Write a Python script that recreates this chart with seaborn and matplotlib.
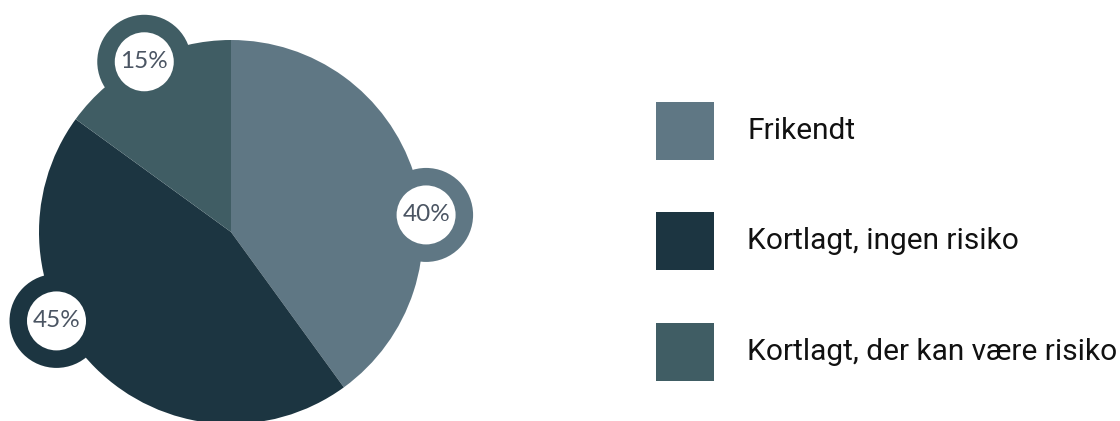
import matplotlib
matplotlib.use("Agg")
import matplotlib.pyplot as plt
from matplotlib.patches import Circle, Rectangle
import numpy as np
import seaborn as sns

# ---- data ----
categories = ["Frikendt", "Kortlagt, ingen risiko", "Kortlagt, der kan være risiko"]
values = [40, 45, 15]
pct_labels = ["40%", "45%", "15%"]

# ---- style / layout ----
colors = ["#5f7784", "#1c3541", "#405d64"]
label_angles = [5, 207, 117]      # degrees (math convention) for the label badges
label_radii = [1.02, 1.02, 0.995]  # badge distance from pie centre (pie radius = 1)
sns.set_theme(style="white")
plt.rcParams["font.family"] = ["Roboto", "DejaVu Sans"]

W, H, DPI = 1120, 421, 100
fig = plt.figure(figsize=(W / DPI, H / DPI), dpi=DPI)
ax = fig.add_axes([0, 0, 1, 1])
cx, cy, R = 231, 232, 192  # pixel center / radius

wedges, _ = ax.pie(values, colors=colors, startangle=90, counterclock=False,
                   radius=1.0, wedgeprops=dict(linewidth=0))
ax.set_xlim((0 - cx) / R, (W - cx) / R)
ax.set_ylim((cy - H) / R, (cy - 0) / R)
ax.set_aspect("equal")
ax.axis("off")

for lab, ang, rr, col in zip(pct_labels, label_angles, label_radii, colors):
    a = np.deg2rad(ang)
    px, py = rr * np.cos(a), rr * np.sin(a)
    ax.add_patch(Circle((px, py), 47 / R, facecolor=col, edgecolor="none", zorder=3))
    ax.add_patch(Circle((px, py), 29.5 / R, facecolor="white", edgecolor="none", zorder=4))
    ax.text(px, py, lab, ha="center", va="center", fontsize=17.5, color="#4b5563",
            family=["Lato", "DejaVu Sans"], fontweight="normal", zorder=5)

# legend
leg_y = [131, 241, 352]
for cat, col, ly in zip(categories, colors, leg_y):
    fig.add_artist(Rectangle(((656) / W, 1 - (ly + 29) / H), 58 / W, 58 / H,
                             transform=fig.transFigure, facecolor=col, edgecolor="none"))
    fig.text(747 / W, 1 - ly / H, cat, ha="left", va="center", fontsize=21.5, color="#111111")

fig.savefig("out.png", dpi=DPI)
